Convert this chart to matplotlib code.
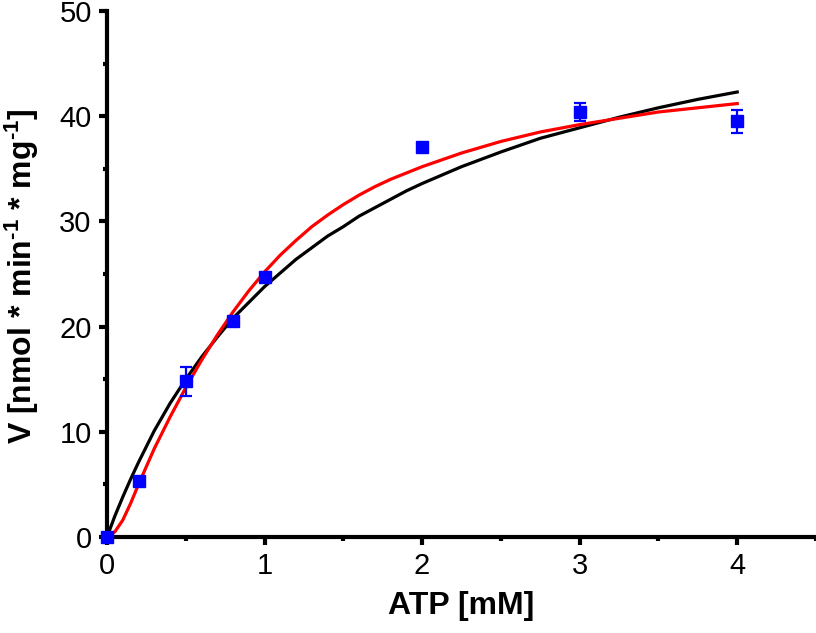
import matplotlib
matplotlib.use("Agg")
import matplotlib.pyplot as plt
from matplotlib.ticker import MultipleLocator

plt.rcParams['font.family'] = ['Liberation Sans', 'DejaVu Sans']
plt.rcParams['mathtext.fontset'] = 'custom'
plt.rcParams['mathtext.rm'] = 'Liberation Sans:bold'
plt.rcParams['mathtext.bf'] = 'Liberation Sans:bold'
plt.rcParams['mathtext.it'] = 'Liberation Sans:bold'

# measured points
atp = [0, 0.2, 0.5, 0.8, 1.0, 2.0, 3.0, 4.0]
v = [0.0, 5.3, 14.8, 20.5, 24.7, 37.1, 40.4, 39.5]
v_err = [0.0, 0.2, 1.4, 0.2, 0.2, 0.2, 0.9, 1.05]

# fitted curves
black_x = [0, 0.05, 0.1, 0.15, 0.2, 0.3, 0.4, 0.5, 0.6, 0.7, 0.8, 0.9, 1.0,
           1.1, 1.2, 1.3, 1.4, 1.5, 1.6, 1.7, 1.8, 1.9, 2.0,
           2.25, 2.5, 2.75, 3.0, 3.25, 3.5, 3.75, 4.0]
black_y = [0.0, 2.0, 3.8, 5.5, 7.1, 10.1, 12.7, 15.0, 17.1, 19.0, 20.8, 22.3, 23.8,
           25.1, 26.4, 27.5, 28.6, 29.5, 30.5, 31.3, 32.1, 32.9, 33.6,
           35.2, 36.6, 37.9, 38.9, 39.9, 40.8, 41.6, 42.3]
red_x = [0, 0.05, 0.1, 0.15, 0.2, 0.3, 0.4, 0.5, 0.6, 0.7, 0.8, 0.9, 1.0,
         1.1, 1.2, 1.3, 1.4, 1.5, 1.6, 1.7, 1.8, 1.9, 2.0,
         2.25, 2.5, 2.75, 3.0, 3.25, 3.5, 3.75, 4.0]
red_y = [0.0, 0.5, 1.6, 3.2, 5.0, 8.4, 11.4, 14.2, 16.8, 19.2, 21.4, 23.4, 25.2,
         26.8, 28.2, 29.5, 30.6, 31.6, 32.5, 33.3, 34.0, 34.6, 35.2,
         36.5, 37.6, 38.5, 39.2, 39.8, 40.4, 40.8, 41.2]

fig = plt.figure(figsize=(8.16, 6.33), dpi=100)
ax = fig.add_axes([107 / 816, 96 / 633, 709 / 816, 526 / 633])

ax.plot(black_x, black_y, color='black', lw=2.3, zorder=2)
ax.plot(red_x, red_y, color='red', lw=2.3, zorder=3)
ax.errorbar(atp, v, yerr=v_err, fmt='s', color='blue', ms=8.5, elinewidth=1.6,
            capsize=4, capthick=1.6, zorder=4, clip_on=False)

ax.set_xlim(0, 4.5)
ax.set_ylim(0, 50)
ax.xaxis.set_major_locator(MultipleLocator(1))
ax.xaxis.set_minor_locator(MultipleLocator(0.5))
ax.yaxis.set_major_locator(MultipleLocator(10))
ax.yaxis.set_minor_locator(MultipleLocator(5))

for s in ['top', 'right']:
    ax.spines[s].set_visible(False)
for s in ['left', 'bottom']:
    ax.spines[s].set_linewidth(3)

ax.tick_params(which='major', length=6, width=3, labelsize=21, pad=5, direction='out')
ax.tick_params(which='minor', length=3, width=3, direction='out')

ax.set_xlabel('ATP [mM]', fontsize=23, fontweight='bold', labelpad=8)
ax.set_ylabel(r'V [nmol * min$^{\text{-1}}$ * mg$^{\text{-1}}$]', fontsize=23,
              fontweight='bold', labelpad=13)
ax.yaxis.label.set_y(0.495)

fig.savefig('out.png', dpi=100)
